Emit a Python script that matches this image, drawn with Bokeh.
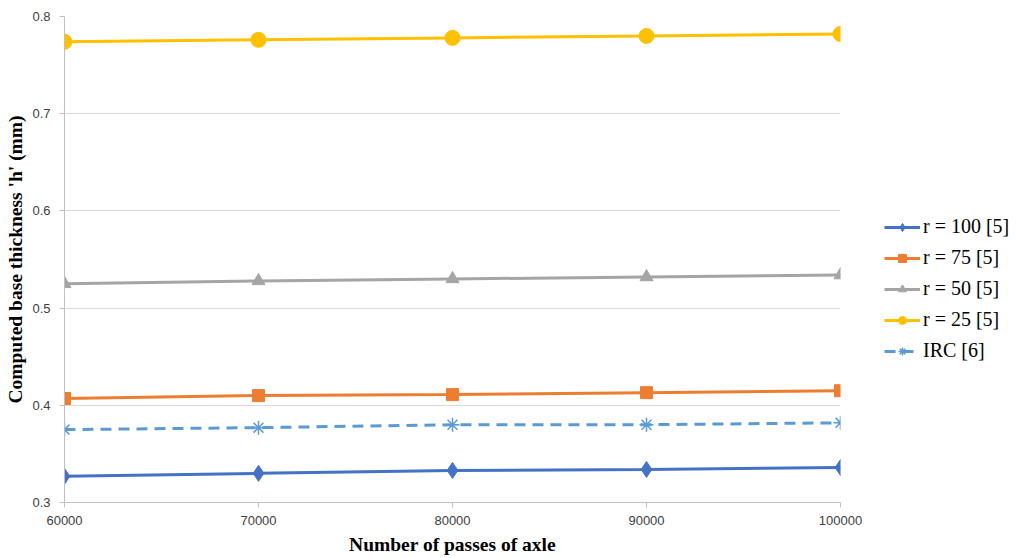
from bokeh.plotting import figure
from bokeh.models import Legend, LegendItem, FixedTicker, Range1d, NumeralTickFormatter
from bokeh.embed import file_html
from bokeh.resources import INLINE

passes = [60000, 70000, 80000, 90000, 100000]
r100 = [0.327, 0.330, 0.333, 0.334, 0.336]
r75 = [0.407, 0.410, 0.411, 0.413, 0.415]
r50 = [0.525, 0.528, 0.530, 0.532, 0.534]
r25 = [0.774, 0.776, 0.778, 0.780, 0.782]
irc = [0.375, 0.377, 0.380, 0.380, 0.382]

x_ticks = [60000, 70000, 80000, 90000, 100000]
y_ticks = [0.3, 0.4, 0.5, 0.6, 0.7, 0.8]

p = figure(frame_width=776, frame_height=486,
           min_border_left=64, min_border_right=160, min_border_top=16, min_border_bottom=40,
           x_range=Range1d(60000, 100000), y_range=Range1d(0.3, 0.8),
           output_backend="svg", toolbar_location=None)
p.outline_line_color = None
p.xgrid.grid_line_color = None
p.ygrid.grid_line_color = "#d9d9d9"
p.ygrid.grid_line_width = 1

p.xaxis.ticker = FixedTicker(ticks=x_ticks)
p.yaxis.ticker = FixedTicker(ticks=y_ticks)
p.xaxis.formatter = NumeralTickFormatter(format="0")
p.yaxis.formatter = NumeralTickFormatter(format="0.0")
for ax in (p.xaxis, p.yaxis):
    ax.axis_line_color = "#bfbfbf"
    ax.major_tick_line_color = "#bfbfbf"
    ax.minor_tick_line_color = None
    ax.major_tick_in = 0
    ax.major_tick_out = 5
    ax.major_label_text_font = "Liberation Sans"
    ax.major_label_text_font_size = "13px"
    ax.major_label_text_color = "#404040"
    ax.axis_label_text_font = "Liberation Serif"
    ax.axis_label_text_font_style = "bold"
    ax.axis_label_text_font_size = "19.5px"
    ax.axis_label_text_color = "#000000"
p.xaxis.axis_label = "Number of passes of axle"
p.yaxis.axis_label = "Computed base thickness 'h' (mm)"
p.xaxis.major_label_standoff = 8
p.yaxis.major_label_standoff = 9
p.xaxis.axis_label_standoff = 6
p.yaxis.axis_label_standoff = 3

series = [
    ("r = 100 [5]", r100, "#4472C4", "diamond", 16, None),
    ("r = 75 [5]", r75, "#ED7D31", "square", 12, None),
    ("r = 50 [5]", r50, "#A5A5A5", "triangle", 13, None),
    ("r = 25 [5]", r25, "#FFC000", "circle", 15, None),
    ("IRC [6]", irc, "#5B9BD5", "asterisk", 14, "11 7"),
]
items = []
for name, ys, col, mk, sz, dash in series:
    if dash:
        ln = p.line(passes, ys, line_color=col, line_width=3, line_dash=dash)
        sc = p.scatter(passes, ys, marker=mk, size=sz, line_color=col, line_width=1.5)
    else:
        ln = p.line(passes, ys, line_color=col, line_width=3)
        sc = p.scatter(passes, ys, marker=mk, size=sz, fill_color=col, line_color=col)
    items.append(LegendItem(label=name, renderers=[ln, sc]))

legend = Legend(items=items, location=(44, 140), orientation="vertical",
                label_text_font="Liberation Serif", label_text_font_size="20px",
                label_text_color="#000000", glyph_width=36, glyph_height=20,
                spacing=8, label_standoff=3, padding=0, margin=0,
                background_fill_alpha=0, border_line_color=None)
p.add_layout(legend, "right")

open("out.html", "w").write(file_html(p, INLINE))
